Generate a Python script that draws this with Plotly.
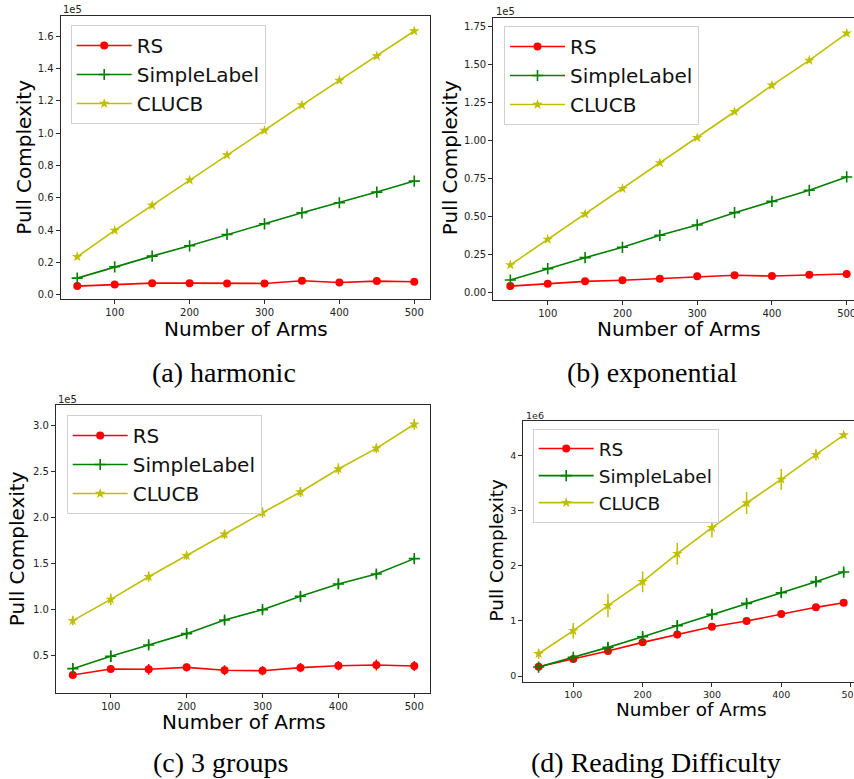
import plotly.graph_objects as go

W, H = 854, 779

# ---------------- data ----------------
x_std = [50, 100, 150, 200, 250, 300, 350, 400, 450, 500]
x_read = [50, 100, 150, 200, 250, 300, 350, 400, 450, 490]
series_names = ["RS", "SimpleLabel", "CLUCB"]

# (a) harmonic
a_rs = [5360, 6400, 7200, 7200, 7000, 7000, 8660, 7630, 8450, 8040]
a_rs_err = [400, 400, 300, 300, 300, 300, 500, 300, 400, 300]
a_sl = [10300, 17300, 23900, 30300, 37300, 43900, 50700, 56900, 63500, 70300]
a_sl_err = [300, 300, 300, 300, 400, 300, 400, 300, 400, 400]
a_cl = [23500, 39800, 55300, 70900, 86400, 101600, 117300, 132600, 147600, 163100]
a_cl_err = [500, 500, 500, 500, 600, 500, 600, 500, 600, 500]

# (b) exponential
b_rs = [3900, 5500, 7000, 7700, 8800, 10300, 11000, 10500, 11400, 11800]
b_rs_err = [500, 500, 600, 600, 600, 800, 800, 800, 1000, 2500]
b_sl = [7900, 15400, 22600, 29400, 37300, 44100, 52200, 59600, 66900, 75700]
b_sl_err = [400, 400, 400, 400, 500, 500, 500, 500, 500, 600]
b_cl = [17800, 34600, 51300, 68000, 84900, 101500, 118600, 136000, 152400, 170200]
b_cl_err = [600, 700, 700, 700, 800, 800, 800, 900, 900, 900]

# (c) 3 groups
c_rs = [29000, 35500, 35200, 37300, 34100, 33700, 37000, 39100, 39900, 38800]
c_rs_err = [4000, 3600, 5800, 4500, 5400, 5000, 5000, 5000, 6000, 5500]
c_sl = [35900, 49300, 61600, 73900, 88700, 99900, 114400, 127800, 138600, 155300]
c_sl_err = [5400, 6300, 4000, 4000, 4000, 3500, 4500, 5000, 4000, 3500]
c_cl = [88000, 111100, 135700, 158500, 181700, 205200, 227600, 252600, 275000, 301100]
c_cl_err = [4900, 6300, 5500, 4500, 5000, 5500, 5500, 6000, 5000, 6000]

# (d) Reading Difficulty
d_rs = [169000, 309000, 454000, 611000, 756000, 896000, 998000, 1126000, 1247000, 1331000]
d_rs_err = [40000, 50000, 60000, 60000, 70000, 60000, 50000, 60000, 50000, 40000]
d_sl = [163000, 339000, 520000, 714000, 914000, 1120000, 1319000, 1513000, 1713000, 1888000]
d_sl_err = [30000, 50000, 70000, 70000, 80000, 80000, 60000, 70000, 70000, 60000]
d_cl = [405000, 823000, 1277000, 1713000, 2221000, 2693000, 3141000, 3570000, 4018000, 4375000]
d_cl_err = [90000, 140000, 210000, 190000, 200000, 180000, 200000, 190000, 100000, 40000]

x_tickvals = [100, 200, 300, 400, 500]
x_ticktext = ["100", "200", "300", "400", "500"]
a_yvals = [0, 20000, 40000, 60000, 80000, 100000, 120000, 140000, 160000]
a_ytext = ["0.0", "0.2", "0.4", "0.6", "0.8", "1.0", "1.2", "1.4", "1.6"]
b_yvals = [0, 25000, 50000, 75000, 100000, 125000, 150000, 175000]
b_ytext = ["0.00", "0.25", "0.50", "0.75", "1.00", "1.25", "1.50", "1.75"]
c_yvals = [50000, 100000, 150000, 200000, 250000, 300000]
c_ytext = ["0.5", "1.0", "1.5", "2.0", "2.5", "3.0"]
d_yvals = [0, 1000000, 2000000, 3000000, 4000000]
d_ytext = ["0", "1", "2", "3", "4"]

captions = ["(a) harmonic", "(b) exponential", "(c) 3 groups", "(d) Reading Difficulty"]
x_title = "Number of Arms"
y_title = "Pull Complexity"
offsets = ["1e5", "1e5", "1e5", "1e6"]

# ---------------- styling ----------------
RED, GREEN, YEL = "#ff0000", "#008000", "#bfbf00"
FRAME = "#2a2a2a"
SANS = "DejaVu Sans"


def px(x):
    return x / W


def py(y):
    return 1 - y / H


panels = [
    dict(xs=x_std, ys=[a_rs, a_sl, a_cl], es=[a_rs_err, a_sl_err, a_cl_err],
         dom=(60.7, 430, 16, 299.3), xr=[27.9, 521.0], yr=[-2800, 172400],
         yv=a_yvals, yt=a_ytext, full=True, leg=(70.7, 25), lfs=20, tfs=10),
    dict(xs=x_std, ys=[b_rs, b_sl, b_cl], es=[b_rs_err, b_sl_err, b_cl_err],
         dom=(493.3, 854, 18.3, 300), xr=[27.2, 509.8], yr=[-5260, 180070],
         yv=b_yvals, yt=b_ytext, full=False, leg=(504, 26), lfs=20, tfs=10),
    dict(xs=x_std, ys=[c_rs, c_sl, c_cl], es=[c_rs_err, c_sl_err, c_cl_err],
         dom=(56, 430, 405.3, 692.7), xr=[27.9, 520.7], yr=[9800, 321700],
         yv=c_yvals, yt=c_ytext, full=True, leg=(66.7, 415), lfs=20, tfs=10),
    dict(xs=x_read, ys=[d_rs, d_sl, d_cl], es=[d_rs_err, d_sl_err, d_cl_err],
         dom=(523.3, 854, 421, 681.7), xr=[27.9, 504.9], yr=[-103000, 4630000],
         yv=d_yvals, yt=d_ytext, full=False, leg=(532.7, 429), lfs=18.5, tfs=9.5),
]

label_pos = [
    dict(xt=(246, 329), yt=(23.3, 157.5), off=(61, 10), cap=(224, 372), fs=20),
    dict(xt=(679.2, 329), yt=(450, 158.3), off=(494, 11.7), cap=(652, 372), fs=20),
    dict(xt=(243.8, 722), yt=(17.3, 549), off=(56, 399.3), cap=(220, 762), fs=20),
    dict(xt=(691.2, 709), yt=(496.7, 550.8), off=(524, 415.3), cap=(656, 762), fs=18.4),
]

fig = go.Figure()
layout = dict(width=W, height=H, margin=dict(l=0, r=0, t=0, b=0, autoexpand=False),
              paper_bgcolor="white", plot_bgcolor="white", showlegend=True)
annotations = []

colors = [RED, GREEN, YEL]
symbols = ["circle", "cross-thin", "star"]
msizes = [8, 8, 8]

for i, p in enumerate(panels):
    n = "" if i == 0 else str(i + 1)
    xa, ya = "x" + n, "y" + n
    leg = "legend" if i == 0 else "legend" + str(i + 1)
    for k in range(3):
        mk = dict(color=colors[k], size=msizes[k], symbol=symbols[k],
                  line=dict(color=colors[k], width=1.6 if k == 1 else 0))
        fig.add_trace(go.Scatter(
            x=p["xs"], y=p["ys"][k], name=series_names[k], mode="lines+markers",
            xaxis=xa, yaxis=ya, legend=leg,
            line=dict(color=colors[k], width=1.6), marker=mk,
            error_y=dict(type="data", array=p["es"][k], visible=True,
                         thickness=1.5, width=0, color=colors[k]),
        ))
    x0, x1, yt, yb = p["dom"]
    layout["xaxis" + n] = dict(
        domain=[px(x0), min(px(x1), 1.0)], range=p["xr"], anchor=ya,
        tickvals=x_tickvals, ticktext=x_ticktext, ticks="outside", ticklen=4,
        tickwidth=1, tickcolor=FRAME, showgrid=False, zeroline=False,
        showline=True, linecolor=FRAME, linewidth=1.2, mirror=True,
        tickfont=dict(family=SANS, size=p["tfs"], color="#222"),
        ticklabeloverflow="allow", automargin=False,
    )
    layout["yaxis" + n] = dict(
        domain=[py(yb), py(yt)], range=p["yr"], anchor=xa,
        tickvals=p["yv"], ticktext=p["yt"], ticks="outside", ticklen=4,
        tickwidth=1, tickcolor=FRAME, showgrid=False, zeroline=False,
        showline=True, linecolor=FRAME, linewidth=1.2, mirror=p["full"],
        tickfont=dict(family=SANS, size=p["tfs"], color="#222"),
        automargin=False,
    )
    lx, ly = p["leg"]
    layout[leg] = dict(x=px(lx), y=py(ly), xanchor="left", yanchor="top",
                       xref="paper", yref="paper",
                       bgcolor="rgba(255,255,255,0.85)", bordercolor="#d0d0d0",
                       borderwidth=1, font=dict(family=SANS, size=p["lfs"], color="#111"),
                       itemwidth=55, tracegroupgap=0)

    lp = label_pos[i]
    annotations.append(dict(text=x_title, x=px(lp["xt"][0]), y=py(lp["xt"][1]),
                            xref="paper", yref="paper", showarrow=False,
                            xanchor="center", yanchor="middle",
                            font=dict(family=SANS, size=lp["fs"], color="black")))
    annotations.append(dict(text=y_title, x=px(lp["yt"][0]), y=py(lp["yt"][1]),
                            xref="paper", yref="paper", showarrow=False, textangle=-90,
                            xanchor="center", yanchor="middle",
                            font=dict(family=SANS, size=lp["fs"], color="black")))
    annotations.append(dict(text=offsets[i], x=px(lp["off"][0]), y=py(lp["off"][1]),
                            xref="paper", yref="paper", showarrow=False,
                            xanchor="left", yanchor="middle",
                            font=dict(family=SANS, size=p["tfs"], color="#222")))
    annotations.append(dict(text=captions[i], x=px(lp["cap"][0]), y=py(lp["cap"][1]),
                            xref="paper", yref="paper", showarrow=False,
                            xanchor="center", yanchor="middle",
                            font=dict(family="Liberation Serif", size=28, color="black")))

layout["annotations"] = annotations
fig.update_layout(**layout)
fig.write_html("out.html")
